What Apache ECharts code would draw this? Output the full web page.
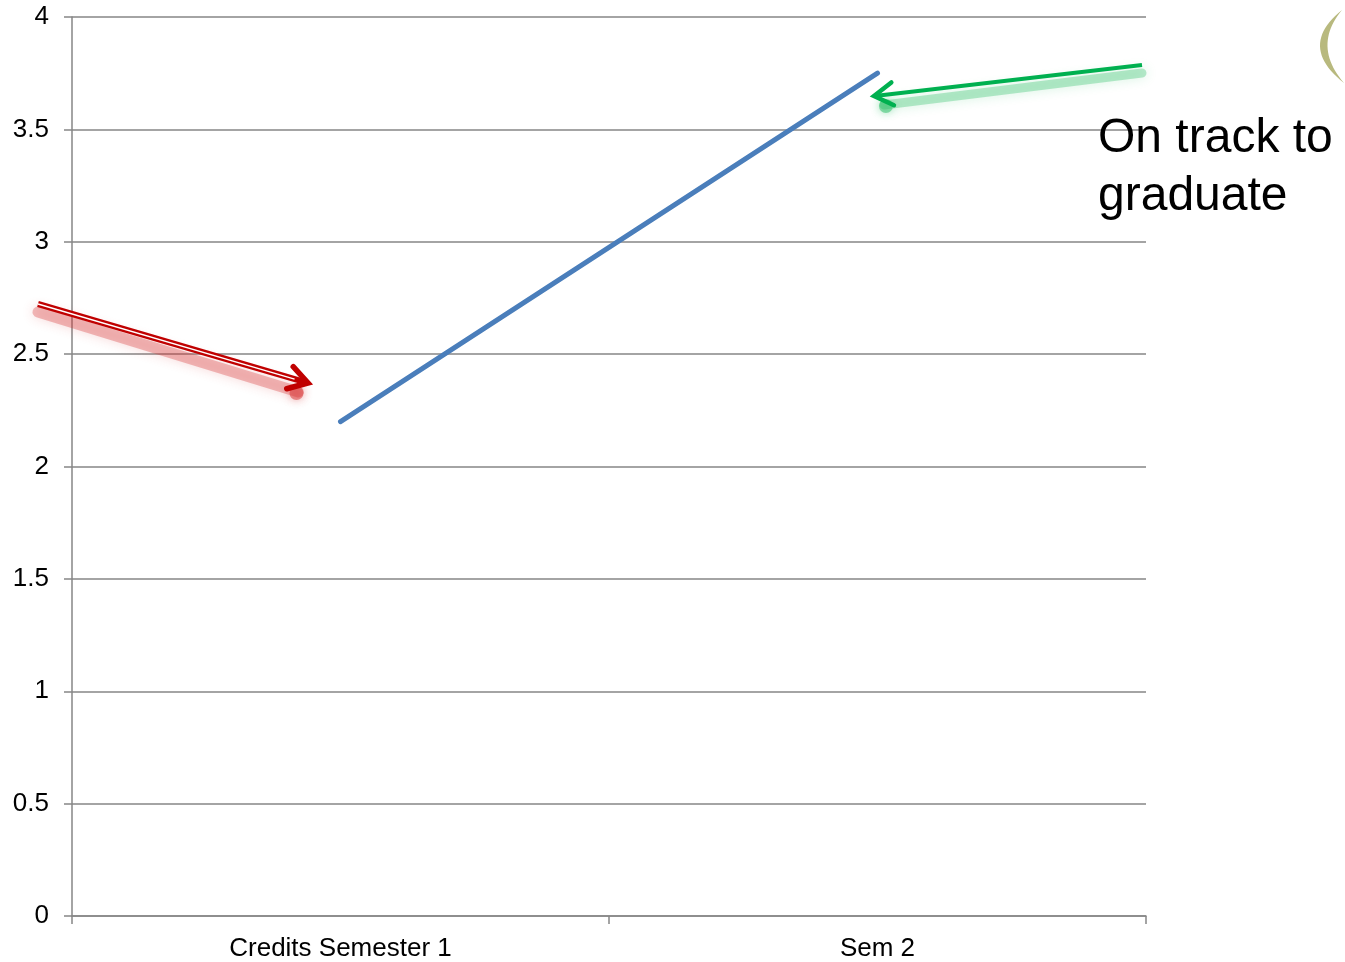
<!DOCTYPE html>
<html>
<head>
<meta charset="utf-8">
<style>
  html, body { margin: 0; padding: 0; background: #ffffff; }
  #chart { width: 1345px; height: 962px; }
</style>
<script src="https://cdn.jsdelivr.net/npm/echarts@6/dist/echarts.min.js"></script>
</head>
<body>
<div id="chart"></div>
<script>
// Credits earned per semester
const categories = ['Credits Semester 1', 'Sem 2'];
const credits = [2.2, 3.75];
const yTicks = [0, 0.5, 1, 1.5, 2, 2.5, 3, 3.5, 4];
const noteText = 'On track to\ngraduate';

const gray = '#868686';
const chart = echarts.init(document.getElementById('chart'));

// Open chevron arrow head at (x, y), pointing along angle (radians)
function headPoints(x, y, angle, len, spread) {
  const a1 = angle + Math.PI - spread;
  const a2 = angle + Math.PI + spread;
  return [
    [x + len * Math.cos(a1), y + len * Math.sin(a1)],
    [x, y],
    [x + len * Math.cos(a2), y + len * Math.sin(a2)]
  ];
}

function arrow(x1, y1, x2, y2, color, width, shadowRgb, compound) {
  const ang = Math.atan2(y2 - y1, x2 - x1);
  const head = headPoints(x2, y2, ang, 22, 0.55);
  const els = [];
  // soft blurred shadow under the arrow
  els.push({
    type: 'polyline', silent: true,
    shape: { points: [[x1, y1 + 8], [x2 - 10 * Math.cos(ang), y2 + 9]] },
    style: {
      stroke: 'rgba(' + shadowRgb + ',0.32)', lineWidth: width + 5, fill: null, lineCap: 'round',
      shadowBlur: 12, shadowColor: 'rgba(' + shadowRgb + ',0.6)'
    },
    z: 1
  });
  els.push({
    type: 'circle', silent: true,
    shape: { cx: x2 - 12 * Math.cos(ang), cy: y2 + 10, r: 7 },
    style: { fill: 'rgba(' + shadowRgb + ',0.5)', shadowBlur: 8, shadowColor: 'rgba(' + shadowRgb + ',0.7)' },
    z: 1
  });
  els.push({
    type: 'polyline', silent: true,
    shape: { points: [[x1, y1], [x2 - 3 * Math.cos(ang), y2 - 3 * Math.sin(ang)]] },
    style: { stroke: color, lineWidth: width, fill: null },
    z: 3
  });
  if (compound) {
    els.push({
      type: 'polyline', silent: true,
      shape: { points: [[x1, y1], [x2 - 14 * Math.cos(ang), y2 - 14 * Math.sin(ang)]] },
      style: { stroke: '#ffffff', lineWidth: 1.4, fill: null },
      z: 4
    });
  }
  els.push({
    type: 'polyline', silent: true,
    shape: { points: head },
    style: { stroke: color, lineWidth: compound ? width - 0.5 : width + 0.5, fill: null, lineJoin: 'miter', lineCap: 'round' },
    z: 3
  });
  return els;
}

// Crescent bracket shape in the top-right corner, as a polygon of two quadratic arcs
function crescent(p0, c1, c2, p2, steps) {
  const pts = [];
  const q = (a, c, b, t) => (1 - t) * (1 - t) * a + 2 * (1 - t) * t * c + t * t * b;
  for (let i = 0; i <= steps; i++) {
    const t = i / steps;
    pts.push([q(p0[0], c1[0], p2[0], t), q(p0[1], c1[1], p2[1], t)]);
  }
  for (let i = steps; i >= 0; i--) {
    const t = i / steps;
    pts.push([q(p0[0], c2[0], p2[0], t), q(p0[1], c2[1], p2[1], t)]);
  }
  return pts;
}

const labelFont = '"Liberation Sans", Arial, sans-serif';

chart.setOption({
  backgroundColor: '#ffffff',
  animation: false,
  grid: { left: 72, right: 199, top: 17, bottom: 46 },
  xAxis: {
    type: 'category',
    data: categories,
    boundaryGap: true,
    axisLine: { lineStyle: { color: gray, width: 1.5 } },
    axisTick: { show: true, length: 8, alignWithLabel: false, lineStyle: { color: gray, width: 1.5 } },
    axisLabel: { color: '#000000', fontSize: 26, margin: 20, fontFamily: labelFont },
    splitLine: { show: false }
  },
  yAxis: {
    type: 'value',
    min: yTicks[0],
    max: yTicks[yTicks.length - 1],
    interval: yTicks[1] - yTicks[0],
    axisLine: { show: true, lineStyle: { color: gray, width: 1.5 } },
    axisTick: { show: true, length: 8, lineStyle: { color: gray, width: 1.5 } },
    axisLabel: { color: '#000000', fontSize: 26, margin: 23, fontFamily: labelFont },
    splitLine: { show: true, lineStyle: { color: gray, width: 1.5 } }
  },
  series: [{
    type: 'line',
    data: credits,
    showSymbol: false,
    symbol: 'none',
    lineStyle: { color: '#4a7ebb', width: 5, cap: 'round' },
    z: 5
  }]
});

// Annotation arrows, note and corner bracket drawn over the plot
const redArrow = arrow(38, 304, 308, 383, '#c00000', 6, '215,50,50', true);
const greenArrow = arrow(1142, 65, 874, 96, '#00b050', 4, '40,190,100', false);

chart.setOption({
  graphic: [
    ...redArrow,
    ...greenArrow,
    {
      type: 'text', silent: true,
      x: 1098, y: 110,
      style: {
        text: noteText,
        fill: '#000000',
        font: '48px "Liberation Sans", Arial, sans-serif',
        lineHeight: 58
      },
      z: 6
    },
    {
      type: 'polygon', silent: true,
      shape: { points: crescent([1342, 10], [1297, 46], [1312, 46], [1344, 83], 24) },
      style: { fill: '#b8b97e' },
      z: 6
    }
  ]
});
</script>
</body>
</html>
